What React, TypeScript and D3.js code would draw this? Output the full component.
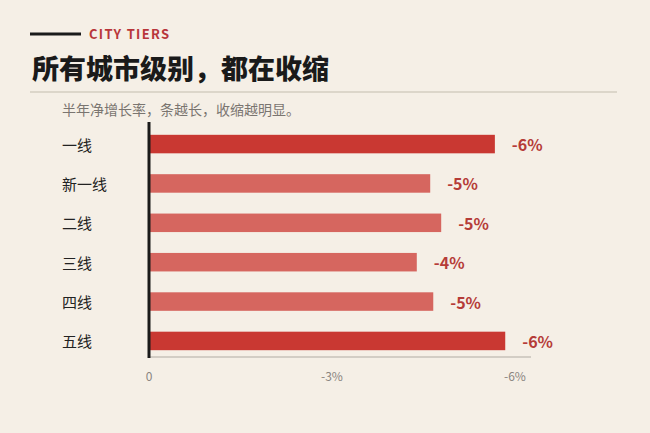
import React from "react";
import * as d3 from "d3";

const categories = ["一线", "新一线", "二线", "三线", "四线", "五线"];
const values = [-5.67, -4.61, -4.79, -4.39, -4.66, -5.84];
const labels = ["-6%", "-5%", "-5%", "-4%", "-5%", "-6%"];
const highlight = [true, false, false, false, false, true];
const ticks = [0, -3, -6];
const tickLabels = ["0", "-3%", "-6%"];

const W = 650, H = 433;

export default function App() {
  const x = d3.scaleLinear().domain([0, -6]).range([149, 515]);
  const y = d3.scaleBand<string>().domain(categories).range([123, 362]).paddingInner(0.53).paddingOuter(0.3);
  const font = "'Noto Sans CJK SC', 'Noto Sans', sans-serif";
  return (
    <svg width={W} height={H} style={{ position: "absolute", left: 0, top: 0, background: "#f5efe6" }} fontFamily={font}>
      <rect x={0} y={0} width={W} height={H} fill="#f5efe6" />
      <line x1={30} x2={81} y1={34} y2={34} stroke="#1a1a1a" strokeWidth={3} />
      <text x={89} y={39} fill="#b8363a" fontSize={13} fontWeight={700} letterSpacing={1.3}>CITY TIERS</text>
      <text x={32} y={79} fill="#1a1a1a" fontSize={27} fontWeight={900}>所有城市级别，都在收缩</text>
      <line x1={30} x2={617} y1={92} y2={92} stroke="#dcd6ca" strokeWidth={2} />
      <text x={62} y={115} fill="#7a7570" fontSize={14}>半年净增长率，条越长，收缩越明显。</text>
      {categories.map((c, i) => {
        const y0 = y(c)!;
        const bw = y.bandwidth();
        return (
          <g key={c}>
            <rect x={x(0)} y={y0} width={x(values[i]) - x(0)} height={bw} fill={highlight[i] ? "#c93832" : "#d6665f"} />
            <text x={62} y={y0 + bw / 2} dominantBaseline="central" fontSize={15} fill="#222">{c}</text>
            <text x={x(values[i]) + 17} y={y0 + bw / 2} dominantBaseline="central" fontSize={16} fontWeight={700} fill="#b53c38">{labels[i]}</text>
          </g>
        );
      })}
      <line x1={149} x2={531} y1={357} y2={357} stroke="#b0aba3" strokeWidth={1} />
      <line x1={149} x2={149} y1={122} y2={358} stroke="#1a1a1a" strokeWidth={3} />
      {ticks.map((t, i) => (
        <text key={t} x={x(t)} y={381} textAnchor="middle" fontSize={12} fill="#8a8580">{tickLabels[i]}</text>
      ))}
    </svg>
  );
}
